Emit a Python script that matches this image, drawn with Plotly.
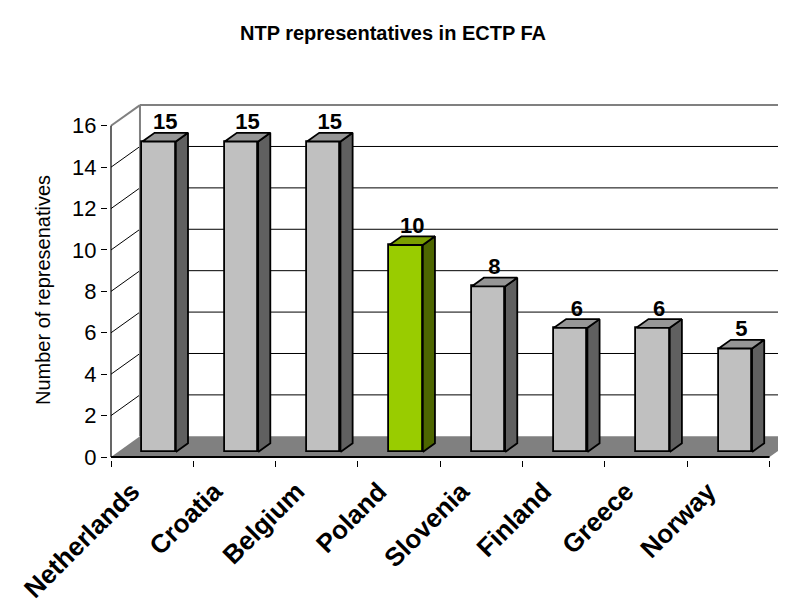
from typing import List

from plotly.graph_objs import Bar, Figure, Scatter

countries = ['Netherlands', 'Croatia', 'Belgium', 'Poland', 'Slovenia', 'Finland', 'Greece', 'Norway']
representatives = [15, 15, 15, 10, 8, 6, 6, 5]
highlight = 'Poland'
y_ticks = [0, 2, 4, 6, 8, 10, 12, 14, 16]

# oblique "3D" look: depth offset of the back wall in axis units
DX = 0.352
DY = 1.0
Z0, Z1 = 0.24, 0.66
HALF_W = 0.203
X_LEFT, X_RIGHT = -0.5, len(countries) - 0.5
Y_TOP = y_ticks[-1]

GREY = ['#C0C0C0', '#606060', '#969696']
GREEN = ['#99CC00', '#4D6600', '#7A9F00']

# the page body adds 8px around the figure, so the layout is shifted by that much
PAD = 8
PLOT_L, PLOT_T, PLOT_W, PLOT_H = 108 - PAD, 100 - PAD, 678, 360


def _polygon(xs: List[float], ys: List[float], color: str) -> Scatter:
    return Scatter(x=xs + [xs[0]], y=ys + [ys[0]], mode='lines', fill='toself', fillcolor=color,
                   line=dict(color='black', width=1.8), hoverinfo='skip', showlegend=False)


def _line(fig: Figure, x0: float, y0: float, x1: float, y1: float, color: str, width: float, layer: str = 'below'):
    fig.add_shape(type='line', xref='x', yref='y', x0=x0, y0=y0, x1=x1, y1=y1,
                  line=dict(color=color, width=width), layer=layer)


def _add_walls(fig: Figure):
    floor = f'M {X_LEFT},0 L {X_LEFT + DX},{DY} L {X_RIGHT + DX},{DY} L {X_RIGHT},0 Z'
    fig.add_shape(type='path', path=floor, xref='x', yref='y', fillcolor='#808080',
                  line=dict(width=0), layer='below')
    for v in y_ticks[1:-1]:
        _line(fig, X_LEFT, v, X_LEFT + DX, v + DY, 'black', 1)
        _line(fig, X_LEFT + DX, v + DY, X_RIGHT + DX, v + DY, 'black', 1)
    _line(fig, X_LEFT, Y_TOP, X_LEFT + DX, Y_TOP + DY, '#808080', 2)
    _line(fig, X_LEFT + DX, Y_TOP + DY, X_RIGHT + DX, Y_TOP + DY, '#808080', 2)
    _line(fig, X_LEFT + DX, DY, X_LEFT + DX, Y_TOP + DY, '#808080', 2)
    # front axes
    _line(fig, X_LEFT, 0, X_LEFT, Y_TOP, 'black', 1.2, 'above')
    _line(fig, X_LEFT, 0, X_RIGHT, 0, 'black', 2, 'above')


def _add_bars(fig: Figure):
    colors = [GREEN if c == highlight else GREY for c in countries]
    xs = [i + Z0 * DX for i in range(len(countries))]
    fig.add_trace(Bar(x=xs, y=representatives, base=Z0 * DY, width=2 * HALF_W,
                      marker=dict(color=[c[0] for c in colors], line=dict(color='black', width=1.8)),
                      hoverinfo='skip', showlegend=False))
    dz = Z1 - Z0
    for i, v in enumerate(representatives):
        x0, x1 = xs[i] - HALF_W, xs[i] + HALF_W
        y0, y1 = Z0 * DY, v + Z0 * DY
        fig.add_trace(_polygon([x1, x1 + dz * DX, x1 + dz * DX, x1],
                               [y0, y0 + dz * DY, y1 + dz * DY, y1], colors[i][1]))
        fig.add_trace(_polygon([x0, x1, x1 + dz * DX, x0 + dz * DX],
                               [y1, y1, y1 + dz * DY, y1 + dz * DY], colors[i][2]))
    fig.add_trace(Scatter(x=[i + (Z0 + Z1) / 2 * DX for i in range(len(countries))],
                          y=[v + Z1 * DY - 0.1 for v in representatives],
                          text=[str(v) for v in representatives], mode='text', textposition='top center',
                          textfont=dict(family='Liberation Sans, Arial', size=22, color='black', weight='bold'),
                          cliponaxis=False, hoverinfo='skip', showlegend=False))


fig = Figure()
_add_walls(fig)
_add_bars(fig)

fig.update_layout(
    width=786, height=612, plot_bgcolor='white', paper_bgcolor='white',
    margin=dict(l=PLOT_L, r=786 - PLOT_L - PLOT_W, t=PLOT_T, b=612 - PLOT_T - PLOT_H),
    font=dict(family='Liberation Sans, Arial', color='black'),
    title=dict(text='<b>NTP representatives in ECTP FA</b>', x=0.5 - PAD / 786, xanchor='center',
               y=1 - (33 - PAD) / 612, yanchor='middle', font=dict(size=20)),
    bargap=0,
)
fig.update_xaxes(range=[-0.5365, 7.70], showgrid=False, zeroline=False, showline=False, automargin=False,
                 tickvals=list(range(len(countries))), ticktext=countries, ticks='',
                 tickangle=-45, tickfont=dict(size=26, weight='bold'),
                 ticklabelstandoff=10, ticklabelshift=-20, ticklabeloverflow='allow',
                 minor=dict(tickvals=[i - 0.5 for i in range(len(countries) + 1)], ticks='outside',
                            ticklen=6, tickcolor='black', tickwidth=1))
fig.update_yaxes(range=[-0.145, 17.245], showgrid=False, zeroline=False, showline=False, automargin=False,
                 tickvals=y_ticks, ticks='outside', ticklen=6, tickcolor='black',
                 tickfont=dict(size=22))
fig.add_annotation(text='Number of represenatives', textangle=-90, xref='paper', yref='paper',
                   x=(43 - PAD - PLOT_L) / PLOT_W, y=(460 - 290) / PLOT_H, xanchor='center',
                   yanchor='middle', showarrow=False, font=dict(size=20))

fig.write_html("out.html")
